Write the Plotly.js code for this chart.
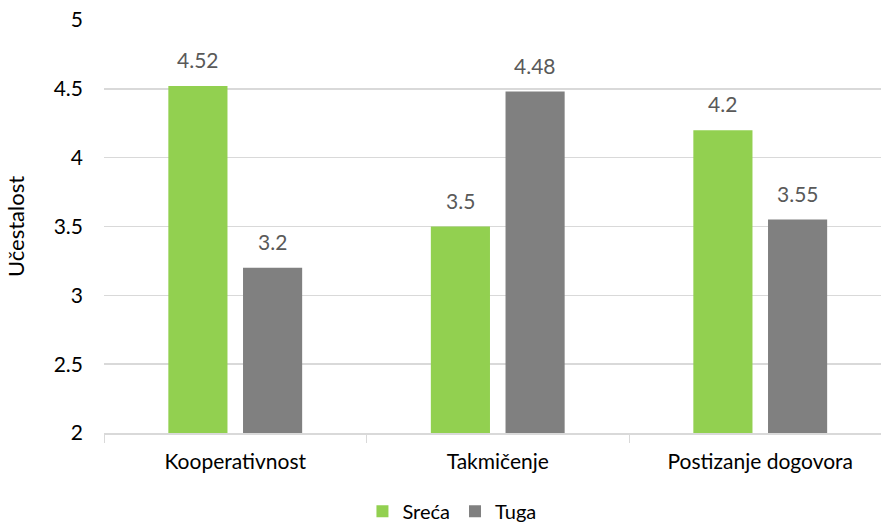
<!DOCTYPE html>
<html><head><meta charset="utf-8">
<script src="https://cdn.plot.ly/plotly-3.0.1.min.js"></script>
<style>html,body{margin:0;padding:0;background:#fff}#c{width:881px;height:527px}</style>
</head><body><div id="c"></div>
<script>
const categories = ["Kooperativnost", "Takmičenje", "Postizanje dogovora"];
const srecaValues = [4.52, 3.5, 4.2];
const tugaValues = [3.2, 4.48, 3.55];
const seriesNames = ["Sreća", "Tuga"];
const yTicks = [2, 2.5, 3, 3.5, 4, 4.5, 5];

const FONT = "Lato, 'Noto Sans', sans-serif";
const colors = ["#92D050", "#808080"];
const traces = [srecaValues, tugaValues].map((v, i) => ({
  type: "bar", x: categories, y: v, name: seriesNames[i],
  marker: {color: colors[i]}, hoverinfo: "skip"
}));

const annotations = [];
[srecaValues, tugaValues].forEach((v, s) => {
  v.forEach((val, i) => {
    annotations.push({
      x: i, y: val, xref: "x", yref: "y",
      xshift: s === 0 ? -37.5 : 37.5, yshift: 12,
      text: String(val), showarrow: false, yanchor: "bottom",
      font: {family: FONT, size: 21, color: "#595959"}
    });
  });
});

const layout = {
  width: 881, height: 527,
  margin: {l: 104, r: 0, t: 20, b: 94},
  paper_bgcolor: "#fff", plot_bgcolor: "#fff",
  barmode: "group", bargap: 0.431, bargroupgap: 0.208,
  font: {family: FONT, size: 21, color: "#000"},
  xaxis: {
    type: "category", range: [-0.5, 2.46], automargin: false,
    tickson: "boundaries", ticks: "outside", ticklen: 8, tickcolor: "#D9D9D9",
    ticklabelstandoff: 9,
    showline: true, linecolor: "#D9D9D9", linewidth: 1.5,
    showgrid: false, tickfont: {family: FONT, size: 21, color: "#000"}
  },
  yaxis: {
    range: [2, 5], tickvals: yTicks, ticktext: yTicks.map(String), automargin: false,
    showgrid: true, gridcolor: "#D9D9D9", gridwidth: 1.5,
    zeroline: false, showline: false, ticks: "", ticklen: 0,
    ticklabelstandoff: 20,
    tickfont: {family: FONT, size: 21, color: "#000"},
    title: {text: "Učestalost", font: {family: FONT, size: 22, color: "#000"}, standoff: 22}
  },
  showlegend: true,
  legend: {orientation: "h", x: 0.513, xanchor: "center", xref: "container",
    y: 0.03, yanchor: "middle", yref: "container",
    font: {family: FONT, size: 20, color: "#000"}, itemwidth: 30, tracegroupgap: 0},
  annotations: annotations
};
Plotly.newPlot("c", traces, layout, {displayModeBar: false, staticPlot: true});
</script></body></html>
